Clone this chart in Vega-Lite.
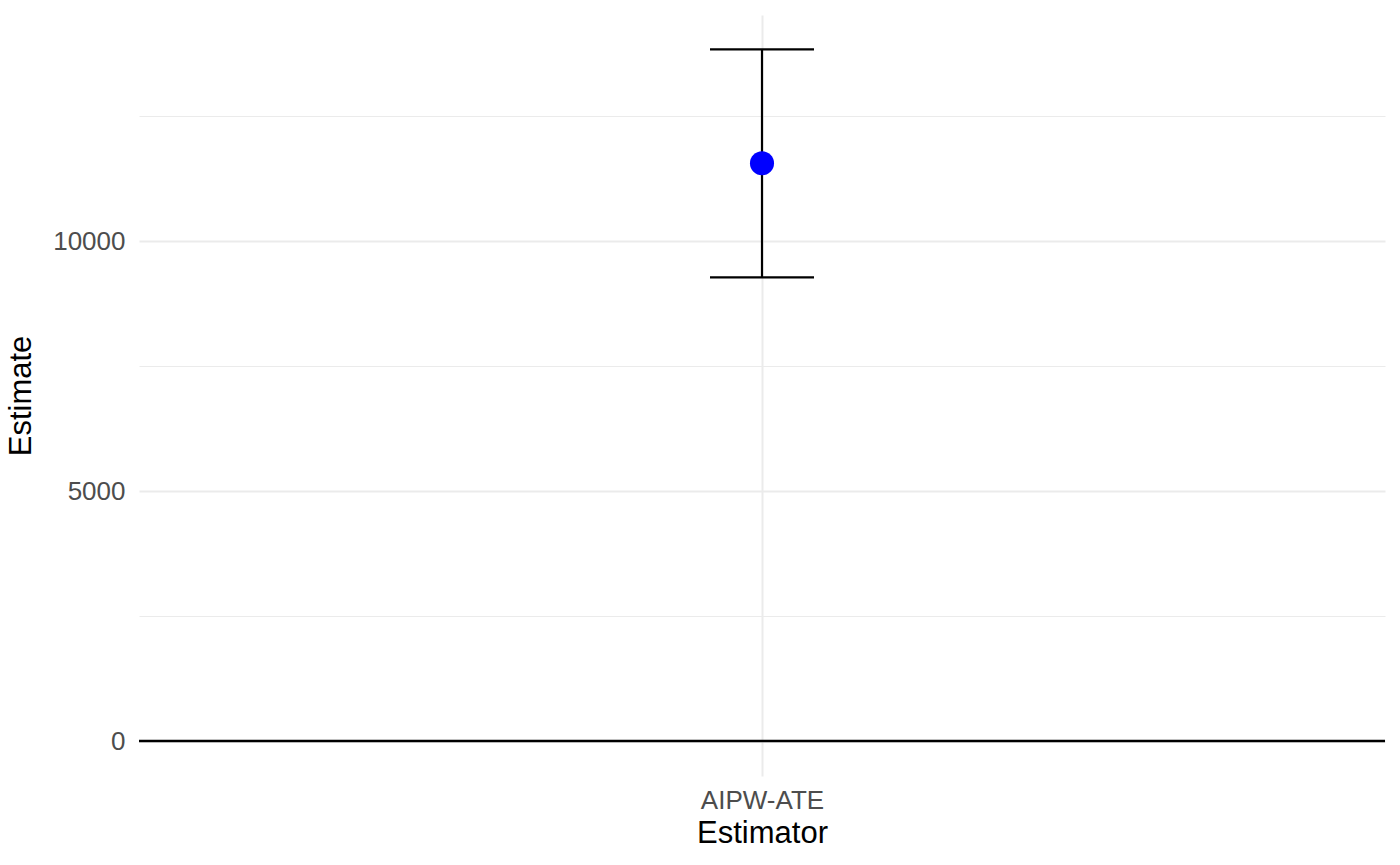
{
  "$schema": "https://vega.github.io/schema/vega-lite/v6.json",
  "width": 1246,
  "height": 761,
  "autosize": {"type": "none"},
  "padding": {"left": 139, "top": 15, "right": 15, "bottom": 89},
  "background": "white",
  "config": {
    "view": {"stroke": null},
    "font": "Liberation Sans",
    "axis": {
      "domain": false,
      "ticks": false,
      "labelFont": "Liberation Sans",
      "titleFont": "Liberation Sans",
      "labelColor": "#4D4D4D",
      "titleColor": "#000000",
      "labelFontSize": 26,
      "titleFontSize": 31,
      "titleFontWeight": "normal",
      "gridColor": "#EBEBEB"
    }
  },
  "data": {
    "values": [
      {"Estimator": "AIPW-ATE", "Estimate": 11554, "lower": 9274, "upper": 13834}
    ]
  },
  "layer": [
    {
      "mark": {"type": "point", "opacity": 0},
      "encoding": {
        "x": {
          "field": "Estimator",
          "type": "nominal",
          "scale": {"type": "point", "padding": 0.5},
          "axis": {
            "title": "Estimator",
            "labelAngle": 0,
            "grid": true,
            "gridWidth": 2,
            "labelPadding": 11,
            "titlePadding": 5
          }
        },
        "y": {
          "field": "Estimate",
          "type": "quantitative",
          "scale": {"domain": [-700, 14520], "nice": false, "zero": false},
          "axis": {
            "title": "Estimate",
            "format": "d",
            "values": [0, 2500, 5000, 7500, 10000, 12500],
            "labelExpr": "datum.value % 5000 === 0 ? datum.label : ''",
            "gridWidth": {"condition": {"test": "datum.value % 5000 === 0", "value": 2}, "value": 1.2},
            "labelPadding": 14,
            "titlePadding": 15
          }
        }
      }
    },
    {
      "mark": {"type": "rule", "color": "black", "strokeWidth": 2.4},
      "encoding": {
        "y": {"datum": 0, "type": "quantitative"}
      }
    },
    {
      "mark": {"type": "rule", "color": "black", "strokeWidth": 2.2},
      "encoding": {
        "x": {"field": "Estimator", "type": "nominal"},
        "y": {"field": "lower", "type": "quantitative"},
        "y2": {"field": "upper"}
      }
    },
    {
      "mark": {"type": "tick", "color": "black", "opacity": 1, "thickness": 2.2, "size": 104, "orient": "horizontal"},
      "encoding": {
        "x": {"field": "Estimator", "type": "nominal"},
        "y": {"field": "lower", "type": "quantitative"}
      }
    },
    {
      "mark": {"type": "tick", "color": "black", "opacity": 1, "thickness": 2.2, "size": 104, "orient": "horizontal"},
      "encoding": {
        "x": {"field": "Estimator", "type": "nominal"},
        "y": {"field": "upper", "type": "quantitative"}
      }
    },
    {
      "mark": {"type": "circle", "color": "#0000FF", "opacity": 1, "size": 580},
      "encoding": {
        "x": {"field": "Estimator", "type": "nominal"},
        "y": {"field": "Estimate", "type": "quantitative"}
      }
    }
  ]
}
